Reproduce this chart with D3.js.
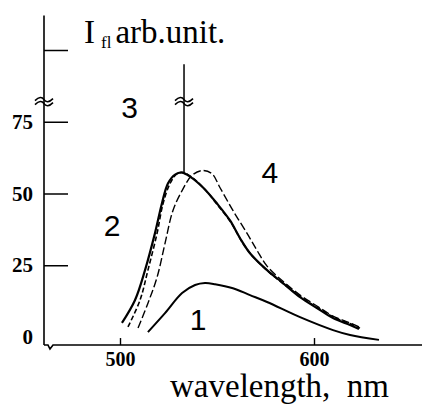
<!DOCTYPE html>
<html>
<head>
<meta charset="utf-8">
<script src="https://cdn.jsdelivr.net/npm/d3@7"></script>
<style>
  body { margin: 0; background: #fff; }
  svg text { fill: #000; }
</style>
</head>
<body>
<svg id="chart" width="422" height="406"></svg>
<script>
// fluorescence spectra, values
const wl1 = [514.4, 523.2, 532.0, 538.7, 543.8, 549.0, 558.2, 567.0, 575.8, 592.8, 609.8, 618.6, 633.5];
const int1 = [1.7, 8.3, 15.3, 18.1, 18.8, 18.4, 17.0, 14.6, 12.2, 6.9, 2.4, 0.7, -1.0];

const wl2 = [501.0, 507.7, 512.9, 518.0, 521.6, 524.7, 528.4, 532.0, 536.1, 542.8, 550.0, 556.7, 561.9, 567.0, 575.8, 584.0, 592.8, 601.5, 609.8, 618.6, 623.2];
const int2 = [4.9, 12.8, 23.3, 36.1, 46.5, 53.5, 56.6, 57.3, 55.9, 52.1, 46.5, 40.6, 34.4, 29.2, 23.3, 18.8, 13.9, 10.1, 6.6, 4.2, 2.8];

const wl3 = [504.1, 510.3, 514.4, 519.1, 522.2, 525.8, 529.4, 532.5, 537.1, 543.8, 550.5, 557.2, 562.4, 567.5, 576.3, 584.5, 593.3, 602.1, 610.3, 619.1, 623.7];
const int3 = [3.5, 12.8, 23.3, 36.1, 46.5, 53.5, 56.9, 57.3, 55.6, 51.4, 45.8, 39.9, 33.7, 28.8, 22.9, 18.4, 13.9, 10.1, 6.9, 4.5, 3.1];

const wl4 = [509.3, 514.4, 519.1, 523.2, 527.3, 532.0, 537.1, 542.3, 547.4, 551.5, 558.2, 565.5, 570.6, 575.8, 584.0, 592.8, 601.5, 609.8, 618.6, 623.2];
const int4 = [3.1, 11.8, 20.8, 32.6, 44.1, 51.0, 56.3, 58.0, 56.9, 52.1, 44.1, 36.1, 30.2, 24.7, 19.4, 14.6, 10.8, 7.3, 4.9, 3.5];

// sharp line on curve 3 that runs off the scale
const spikeWl = 533;
const spikeTop = 95;

const xTicks = [500, 600];
const yTicks = [0, 25, 50, 75, 100];
const yTickLabels = ["0", "25", "50", "75", ""];

const curveNames = ["1", "2", "3", "4"];
const labelWl = [540.2, 495.9, 504.9, 577.3];
const labelInt = [2.4, 35.2, 76.3, 53.7];

const svg = d3.select("#chart");

const x = d3.scaleLinear().domain([500, 600]).range([120, 314]);
const y = d3.scaleLinear().domain([0, 75]).range([337, 121.75]);

const yBottom = -2.8, yTopEnd = 112, yBreak = 82;
const xLeft = x.invert(44), xRight = x.invert(422);

// axes lines
svg.append("line")
  .attr("x1", x(xLeft)).attr("x2", x(xLeft))
  .attr("y1", y(yTopEnd)).attr("y2", y(yBottom))
  .attr("stroke", "#000").attr("stroke-width", 1.6);

svg.append("path")
  .attr("d", `M${x(xLeft)},${y(yBottom)} h4 l2,4 l3,-4 H${x(xRight)}`)
  .attr("fill", "none").attr("stroke", "#000").attr("stroke-width", 1.6);

// x axis ticks
const xAxis = svg.append("g")
  .attr("transform", `translate(0,${y(yBottom)})`)
  .call(d3.axisBottom(x).tickValues(xTicks).tickSizeInner(-7).tickSizeOuter(0).tickPadding(7));
xAxis.select(".domain").remove();
xAxis.selectAll("line").attr("stroke-width", 1.4);
xAxis.selectAll("text")
  .attr("font-family", "Liberation Serif, serif")
  .attr("font-weight", "bold")
  .attr("font-size", 20);

// y axis ticks
const yAxis = svg.append("g")
  .attr("transform", `translate(${x(xLeft)},0)`)
  .call(d3.axisLeft(y).tickValues(yTicks)
    .tickFormat((d, i) => yTickLabels[i])
    .tickSizeInner(-24).tickSizeOuter(0).tickPadding(11));
yAxis.select(".domain").remove();
yAxis.selectAll("line").attr("stroke-width", 1.5);
yAxis.selectAll(".tick").filter(d => d === 0).select("line").remove();
yAxis.selectAll("text")
  .attr("font-family", "Liberation Serif, serif")
  .attr("font-weight", "bold")
  .attr("font-size", 21);

// curves
const line = d3.line()
  .x(d => x(d[0]))
  .y(d => y(d[1]))
  .curve(d3.curveCatmullRom.alpha(0.5));

const series = [
  { wl: wl1, v: int1, w: 2.0, dash: null },
  { wl: wl4, v: int4, w: 1.4, dash: "8,3" },
  { wl: wl3, v: int3, w: 1.6, dash: "5,2.5" },
  { wl: wl2, v: int2, w: 2.2, dash: null }
];

series.forEach(s => {
  svg.append("path")
    .datum(d3.zip(s.wl, s.v))
    .attr("d", line)
    .attr("fill", "none")
    .attr("stroke", "#000")
    .attr("stroke-width", s.w)
    .attr("stroke-dasharray", s.dash);
});

// spike on curve 3
const peak3 = d3.max(int3);
svg.append("line")
  .attr("x1", x(spikeWl)).attr("x2", x(spikeWl))
  .attr("y1", y(peak3)).attr("y2", y(spikeTop))
  .attr("stroke", "#000").attr("stroke-width", 1.5);

// break marks
function breakMark(cx, cy) {
  const g = svg.append("g").attr("transform", `translate(${cx},${cy})`);
  [-2, 2].forEach(dy => {
    g.append("path")
      .attr("d", `M-9,${dy + 1} C-5,${dy - 3} -2,${dy - 3} 0,${dy} S5,${dy + 3} 9,${dy - 1}`)
      .attr("fill", "none").attr("stroke", "#000").attr("stroke-width", 1.6);
  });
}
breakMark(x(xLeft), y(yBreak));
breakMark(x(spikeWl), y(yBreak));

// curve numbers
svg.append("g").selectAll("text")
  .data(curveNames)
  .join("text")
  .attr("x", (d, i) => x(labelWl[i]))
  .attr("y", (d, i) => y(labelInt[i]))
  .attr("text-anchor", "middle")
  .attr("font-family", "Liberation Sans, Arial, sans-serif")
  .attr("font-size", 30)
  .text(d => d);

// axis titles
const yt = svg.append("text")
  .attr("x", 84).attr("y", 43)
  .attr("font-family", "Liberation Serif, serif")
  .attr("font-size", 33);
yt.append("tspan").text("I");
yt.append("tspan").attr("dx", 6).attr("dy", 5).attr("font-size", 17).text("fl");
yt.append("tspan").attr("dx", 4).attr("dy", -5).text("arb.unit.");

svg.append("text")
  .attr("x", 170).attr("y", 397)
  .attr("font-family", "Liberation Serif, serif")
  .attr("font-size", 33)
  .attr("xml:space", "preserve")
  .style("white-space", "pre")
  .text("wavelength,  nm");
</script>
</body>
</html>
